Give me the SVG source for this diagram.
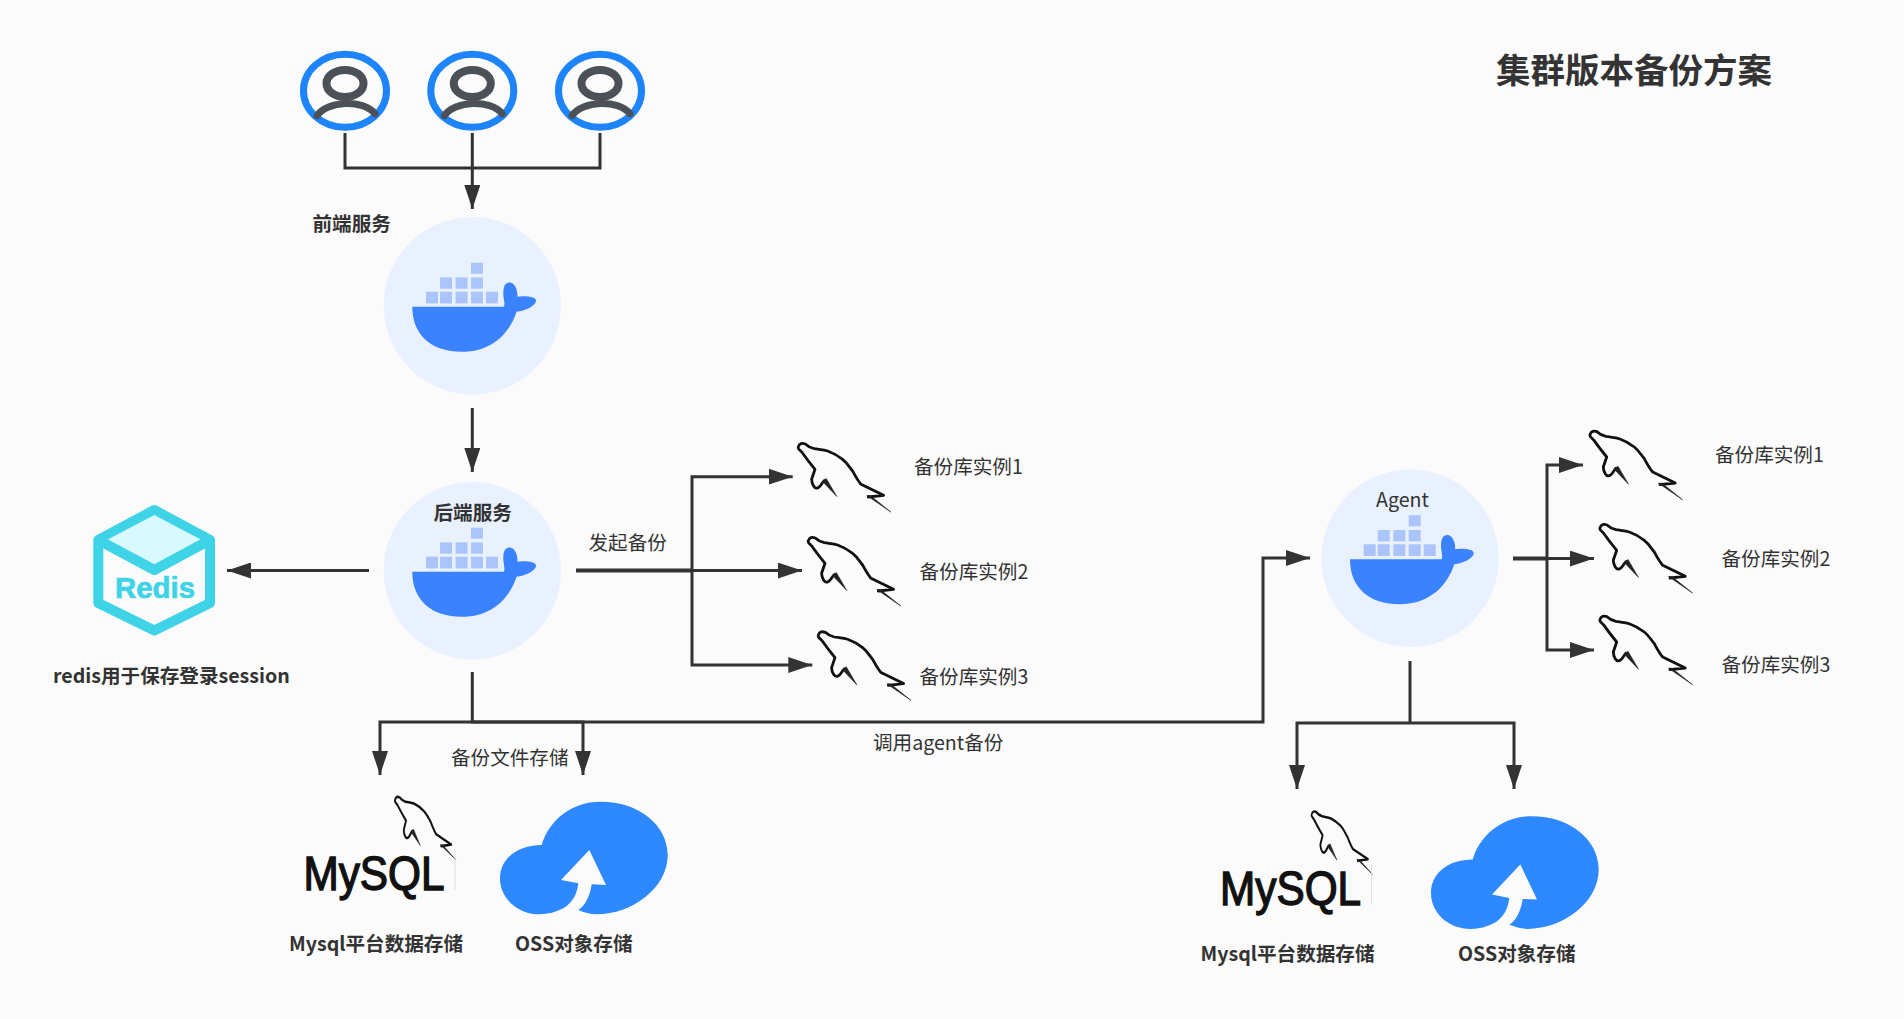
<svg xmlns="http://www.w3.org/2000/svg" xmlns:xlink="http://www.w3.org/1999/xlink" width="1904" height="1019" viewBox="0 0 1904 1019">
<style>
text{font-family:"Noto Sans CJK SC","Liberation Sans",sans-serif;fill:#333;font-size:19.6px}
.b{font-weight:700}
.conn{fill:none;stroke:#333;stroke-width:3}
.arrow{marker-end:url(#ah)}
.thick{stroke-width:4}
.dol{fill:none;stroke:#111;stroke-width:2.8;stroke-linejoin:round;stroke-linecap:round}
.dolt{fill:#222;stroke:#222;stroke-width:.6;stroke-linejoin:round}
</style>
<defs>
<marker id="ah" markerUnits="userSpaceOnUse" markerWidth="24" markerHeight="16" refX="24" refY="8" orient="auto"><path d="M0,0L24,8L0,16Z" fill="#333"/></marker>
<g id="user">
<ellipse cx="0" cy="0" rx="41.5" ry="36.5" fill="none" stroke="#1d84fb" stroke-width="7"/>
<ellipse cx="0" cy="-7.3" rx="18.5" ry="13.5" fill="none" stroke="#4c5157" stroke-width="8"/>
<path d="M-28,25C-18,10 18,8 30,23" fill="none" stroke="#4c5157" stroke-width="7" stroke-linecap="round"/>
</g>
<g id="docker">
<circle r="88.7" fill="#e9f1ff"/>
<g fill="#abc4f9">
<rect x="-46.3" y="-14" width="12" height="11.7"/><rect x="-32.3" y="-14" width="12" height="11.7"/><rect x="-16.7" y="-14" width="12" height="11.7"/><rect x="-1.3" y="-14" width="12" height="11.7"/><rect x="13.7" y="-14" width="12" height="11.7"/>
<rect x="-32.3" y="-28.3" width="12" height="11.3"/><rect x="-16.7" y="-28.3" width="12" height="11.3"/><rect x="-1.3" y="-28.3" width="12" height="11.3"/>
<rect x="-1.3" y="-43" width="12" height="11"/>
</g>
<path d="M-60,1H31.7C33,-3 31,-7 31,-12C31,-20 33,-23.5 37.7,-23.3C43,-23 46,-14 45,-9C50,-10 63.7,-10 63.7,-5C63.7,0 52,5.5 44.3,6C38,25 22,46 -10.7,46C-40,46 -60,30 -60,1Z" fill="#3b82ff"/>
</g>
<g id="dolphin" transform="translate(1,1)">
<path class="dol" d="M25,34.5C23,36 21,41.7 18,42C15,43 12.5,38 12.3,33.3L15.7,23.3C13,20 6,11 3,6.7C1,4 -2,3 -1,1C0,-3 3,-3 6,-2C9,1 12,2 15,2.7C19,3.5 24,3.5 28.3,5C34,7 39,10 43.3,13.3C48,17 50,21 53.3,25C56,30 58,34 61.7,38.3L84.3,49.3L69,51"/>
<path class="dolt" d="M23.2,35.5L27,32.5L37.5,50.5ZM67.5,49.5L71,49.5L91.5,66Z"/>
</g>
<g id="mysql">
<use xlink:href="#dolphin" href="#dolphin" transform="translate(395,798.3) scale(.66,.92)"/>
<text x="303.5" y="890" textLength="141" lengthAdjust="spacingAndGlyphs" style="font-family:'Liberation Sans',sans-serif;font-size:47.5px;fill:#111;stroke:#111;stroke-width:1.4">MySQL</text>
<rect x="454.5" y="850" width="1" height="40" fill="#ddd"/>
</g>
<path id="cloud" fill="#2e88ff" d="M541.7,845C549,820 572,801.7 600.5,801.7C639,801.7 667.7,825 667.7,855C667.7,888 632,914.3 596.7,914.3C590,914.3 584,912.5 578.3,910C585,906 590,896 591.7,884.3L606,885L589.3,850L561,880L578.3,883.3C577,895 572,903 563.3,908.3C556,912 548,914.3 540,914.3C517,914.3 500,898 500,878.3C500,859 517,845 541.7,845Z"/>
</defs>
<rect width="1904" height="1019" fill="#fbfbfb"/>

<g id="connectors">
<path class="conn" d="M345,133V168H600V133"/>
<path class="conn arrow" d="M472.3,133V209"/>
<path class="conn arrow" d="M472.3,408V472"/>
<path class="conn arrow" d="M369,570.5H227"/>
<path class="conn thick" d="M576,570.6H692"/>
<path class="conn arrow" d="M692,570.6H802"/>
<path class="conn arrow" d="M692,570.6V476.7H792.7"/>
<path class="conn arrow" d="M692,570.6V665H812.3"/>
<path class="conn arrow" d="M472.3,672V722H1263V558H1310"/>
<path class="conn arrow" d="M472.3,722H380V775"/>
<path class="conn arrow" d="M472.3,722H583V775"/>
<path class="conn" d="M1410,661V723"/>
<path class="conn arrow" d="M1410,723H1297V789"/>
<path class="conn arrow" d="M1410,723H1514V789"/>
<path class="conn thick" d="M1513,558.6H1547"/>
<path class="conn arrow" d="M1547,558.6H1594"/>
<path class="conn arrow" d="M1547,558.6V465H1583"/>
<path class="conn arrow" d="M1547,558.6V650H1594"/>
</g>

<g id="title"><text class="b" x="1496" y="83" style="font-size:34.5px">集群版本备份方案</text></g>

<g id="user1"><use href="#user" x="345" y="90.7"/></g>
<g id="user2"><use href="#user" x="472.3" y="90.7"/></g>
<g id="user3"><use href="#user" x="600" y="90.7"/></g>

<g id="frontend"><use href="#docker" x="472.3" y="305.7"/><text class="b" x="312.5" y="231">前端服务</text></g>
<g id="backend"><use href="#docker" x="472.3" y="570.7"/><text class="b" x="433.5" y="519.5">后端服务</text></g>
<g id="agent"><use href="#docker" x="1410" y="558.3"/><text x="1376" y="506.5">Agent</text></g>

<g id="redis">
<path d="M154.3,510L98.3,540V603L154.3,630.5L210,603V540Z" fill="none" stroke="#3fd3e8" stroke-width="10" stroke-linejoin="round"/>
<path d="M154.3,515L106.7,540L154.3,565L201.7,540Z" fill="#d8f9ff"/>
<path d="M98.3,540L154.3,570L210,540" fill="none" stroke="#3fd3e8" stroke-width="10" stroke-linejoin="round"/>
<text x="115" y="598" textLength="80" lengthAdjust="spacingAndGlyphs" style="font-family:'Liberation Sans',sans-serif;font-weight:700;font-size:30px;fill:#3fd3e8;stroke:#3fd3e8;stroke-width:.7">Redis</text>
<text class="b" x="53" y="683">redis用于保存登录session</text>
</g>

<g id="launch-label"><text x="588.5" y="550">发起备份</text></g>

<g id="inst1"><use href="#dolphin" x="798.3" y="445"/><text x="914" y="474">备份库实例1</text></g>
<g id="inst2"><use href="#dolphin" x="808.3" y="539"/><text x="919.5" y="579">备份库实例2</text></g>
<g id="inst3"><use href="#dolphin" x="818.3" y="633.3"/><text x="919.5" y="684">备份库实例3</text></g>
<g id="ainst1"><use href="#dolphin" x="1590" y="432.7"/><text x="1715" y="462">备份库实例1</text></g>
<g id="ainst2"><use href="#dolphin" x="1600" y="526"/><text x="1721.5" y="566">备份库实例2</text></g>
<g id="ainst3"><use href="#dolphin" x="1600" y="617.7"/><text x="1721.5" y="671.5">备份库实例3</text></g>

<g id="store-label"><text x="451" y="765">备份文件存储</text></g>
<g id="agent-label"><text x="873" y="750">调用agent备份</text></g>

<g id="mysql1"><use href="#mysql"/><text class="b" x="289" y="951">Mysql平台数据存储</text></g>
<g id="oss1"><use href="#cloud"/><text class="b" x="515" y="951">OSS对象存储</text></g>
<g id="mysql2"><use href="#mysql" x="916.6" y="14.6"/><text class="b" x="1200.5" y="960.5">Mysql平台数据存储</text></g>
<g id="oss2"><use href="#cloud" x="931" y="14.6"/><text class="b" x="1458" y="960.5">OSS对象存储</text></g>
</svg>
